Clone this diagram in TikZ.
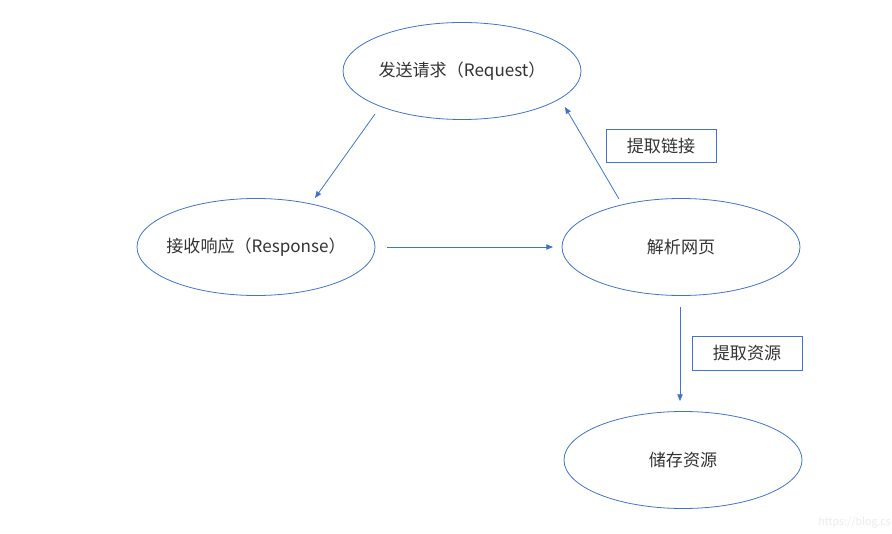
\documentclass[tikz,border=0pt]{standalone}
\usepackage{fontspec}
\setmainfont{Noto Sans CJK SC}
\usetikzlibrary{arrows.meta,shapes.geometric}
\definecolor{lineblue}{HTML}{4472C4}
\definecolor{txt}{HTML}{333333}
\newcommand{\zw}[1]{\makebox[0pt]{#1}}
\tikzset{
  stage/.style={ellipse, draw=lineblue, line width=0.6pt, minimum width=178.5pt, minimum height=72.75pt, inner sep=0pt, text=txt, font=\fontsize{12.8}{14}\selectfont},
  tag/.style={rectangle, draw=lineblue, line width=0.6pt, minimum width=82.5pt, minimum height=25pt, inner sep=0pt, text=txt, font=\fontsize{12.8}{14}\selectfont},
  flow/.style={draw=lineblue, line width=0.6pt, -{Triangle[length=5pt,width=4pt]}}
}
\begin{document}
\begin{tikzpicture}[x=0.75pt,y=-0.75pt]
\useasboundingbox (0,0) rectangle (892,534);
\node[stage] (req) at (462,71) {\zw{发送请求（Request）}};
\node[stage] (resp) at (256,247) {\zw{接收响应（Response）}};
\node[stage] (parse) at (681,247) {\zw{解析网页}};
\node[stage] (store) at (683,460) {\zw{储存资源}};
\node[tag] (link) at (661,146) {提取链接};
\node[tag] (res) at (747,353.5) {提取资源};
\coordinate (a1) at (375,114);
\coordinate (a2) at (315,198);
\coordinate (b1) at (387,247);
\coordinate (b2) at (553,247);
\coordinate (c1) at (619,199);
\coordinate (c2) at (565,107);
\coordinate (d1) at (680,307);
\coordinate (d2) at (680,401);
\draw[flow] (a1) -- (a2);
\draw[flow] (b1) -- (b2);
\draw[flow] (c1) -- (c2);
\draw[flow] (d1) -- (d2);
\node[text=black!8, font=\fontsize{8}{9}\selectfont, anchor=west, inner sep=0pt] (wm) at (818,523) {https://blog.cs};
\end{tikzpicture}
\end{document}
